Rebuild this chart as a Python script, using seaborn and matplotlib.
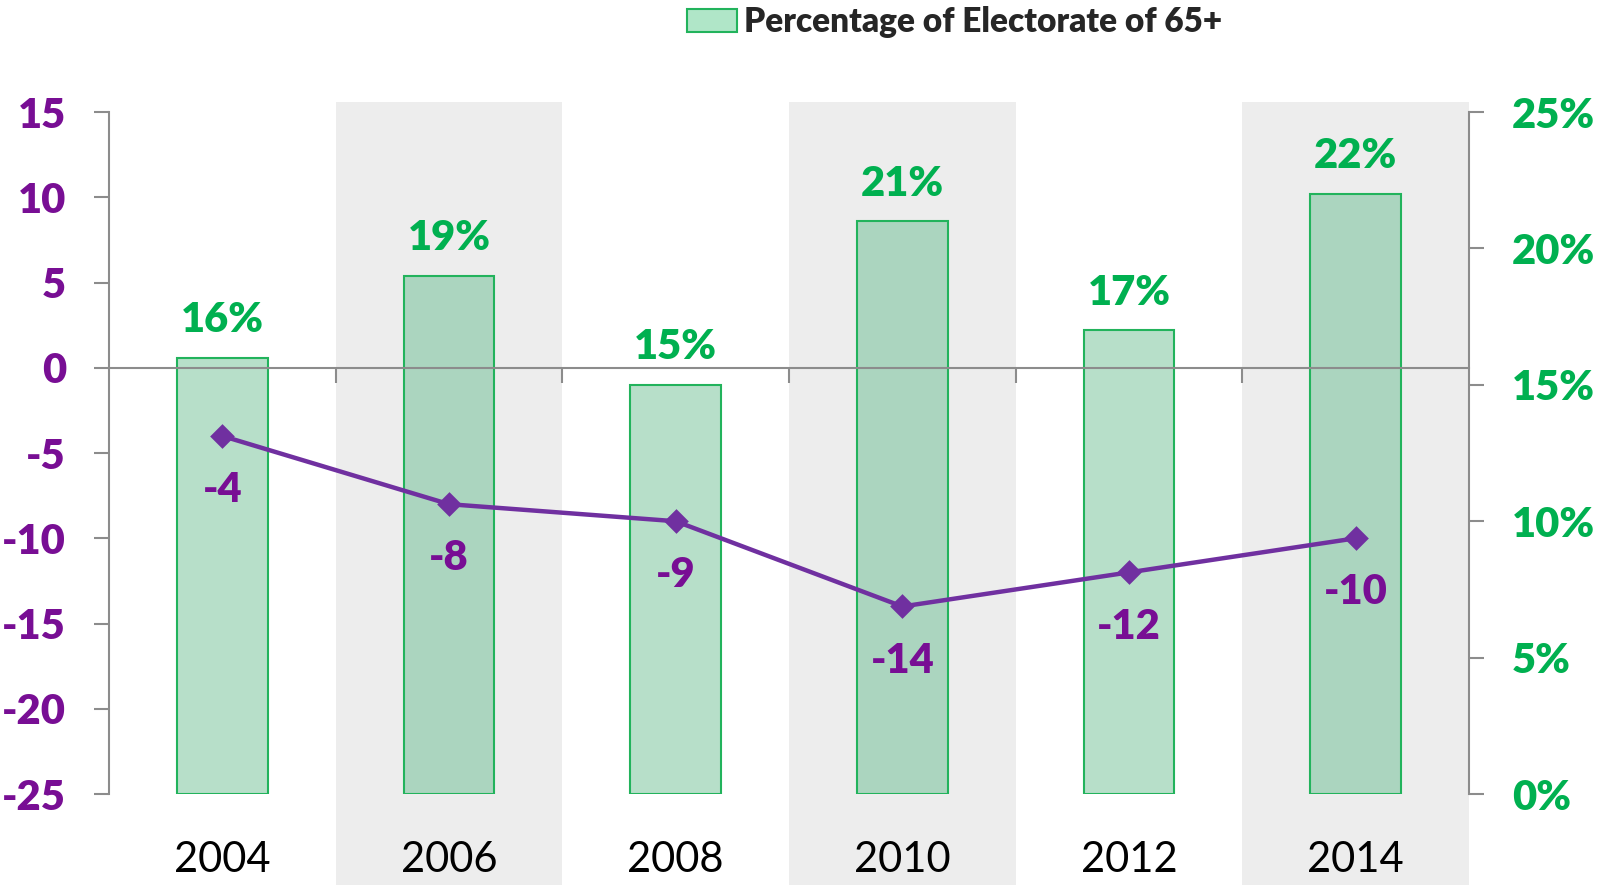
import matplotlib
matplotlib.use("Agg")
import matplotlib.pyplot as plt
from matplotlib.patches import Patch
import seaborn as sns

# === Data ===
years = ["2004", "2006", "2008", "2010", "2012", "2014"]
margin = [-4, -8, -9, -14, -12, -10]          # left axis (line)
pct_65 = [16, 19, 15, 21, 17, 22]             # right axis (bars), percent
shaded = [False, True, False, True, False, True]

left_ticks = [15, 10, 5, 0, -5, -10, -15, -20, -25]
right_ticks = [0, 5, 10, 15, 20, 25]

# === Style ===
sns.set_style("white")
plt.rcParams["font.family"] = ["Lato", "DejaVu Sans"]
plt.rcParams["axes.unicode_minus"] = False

PURPLE = "#7030a0"
PURPLE_TXT = "#780e94"
GREEN_TXT = "#00b050"
GRAY = "#8c8c8c"
BAND = "#ededed"
WEIGHT = "heavy"
bar_colors = ["#a4dcbe" if s else "#b0e6c8" for s in shaded]

fig = plt.figure(figsize=(16.02, 8.85), dpi=100)
ax = fig.add_axes([0.068, 0.1028, 0.849, 0.7706])
ax2 = ax.twinx()
ax.set_zorder(2)
ax2.set_zorder(1)
ax.patch.set_visible(False)

# === Bars (right axis) ===
sns.barplot(x=years, y=pct_65, hue=years, palette=bar_colors, legend=False,
            width=0.4, edgecolor="#22b35c", linewidth=1.5, ax=ax2, zorder=2)
ax2.set_ylim(0, 25)
ax2.set_yticks(right_ticks)
ax2.set_yticklabels([f"{t}%" for t in right_ticks])

# shaded bands behind alternating years
for i, s in enumerate(shaded):
    if s:
        ax2.axvspan(i - 0.5, i + 0.5, ymin=-0.2, ymax=1.015, color=BAND,
                    zorder=0, clip_on=False, lw=0)

for i, v in enumerate(pct_65):
    ax2.annotate(f"{v}%", (i, v), xytext=(0, 27), textcoords="offset points",
                 ha="center", va="center", fontsize=30, fontweight=WEIGHT,
                 color=GREEN_TXT)

# === Line (left axis) ===
sns.pointplot(x=years, y=margin, color=PURPLE, markers="D", markersize=10,
              linewidth=3.2, ax=ax)
ax.set_ylim(-25, 15)
ax.set_yticks(left_ticks)
for i, v in enumerate(margin):
    ax.annotate(f"{v}", (i, v), xytext=(0, -39), textcoords="offset points",
                ha="center", va="center", fontsize=30, fontweight=WEIGHT,
                color=PURPLE_TXT)

ax.set_xlim(-0.5, len(years) - 0.5)

# === Axes styling ===
for sp in ["top", "right"]:
    ax.spines[sp].set_visible(False)
ax.spines["bottom"].set_position(("data", 0))
for sp in ["left", "bottom"]:
    ax.spines[sp].set_color(GRAY)
    ax.spines[sp].set_linewidth(1.5)

for sp in ["top", "left", "bottom"]:
    ax2.spines[sp].set_visible(False)
ax2.spines["right"].set_color(GRAY)
ax2.spines["right"].set_linewidth(1.5)

ax.tick_params(axis="y", which="major", direction="out", length=11, width=1.5,
               color=GRAY, pad=20, labelsize=30, labelcolor=PURPLE_TXT, left=True)
for lab in ax.get_yticklabels():
    lab.set_fontweight(WEIGHT)

ax2.tick_params(axis="y", which="major", direction="out", length=11, width=1.5,
                color=GRAY, pad=20, labelsize=30, labelcolor=GREEN_TXT, right=True)
for lab in ax2.get_yticklabels():
    lab.set_fontweight(WEIGHT)

# category boundary ticks on the zero line
ax.set_xticks([i + 0.5 for i in range(len(years) - 1)], minor=True)
ax.tick_params(axis="x", which="major", length=0, labelbottom=False)
ax.tick_params(axis="x", which="minor", direction="out", length=11, width=1.5,
               color=GRAY, bottom=True)

# year labels at the bottom
ax2.xaxis.set_visible(True)
ax2.tick_params(axis="x", which="major", length=0, pad=34, labelsize=30,
                labelcolor="black", labelbottom=True)
ax2.tick_params(axis="x", which="minor", length=0)
ax.set_xlabel("")
ax.set_ylabel("")
ax2.set_xlabel("")
ax2.set_ylabel("")

# === Legend ===
handle = Patch(facecolor="#b0e6c8", edgecolor="#22b35c", linewidth=1.5)
fig.legend(handles=[handle], labels=["Percentage of Electorate of 65+"],
           loc="upper center", bbox_to_anchor=(0.596, 1.027), frameon=False,
           prop={"size": 24, "weight": WEIGHT}, handlelength=1.5,
           handleheight=0.65, handletextpad=0.2)

fig.savefig("out.png", dpi=100)
